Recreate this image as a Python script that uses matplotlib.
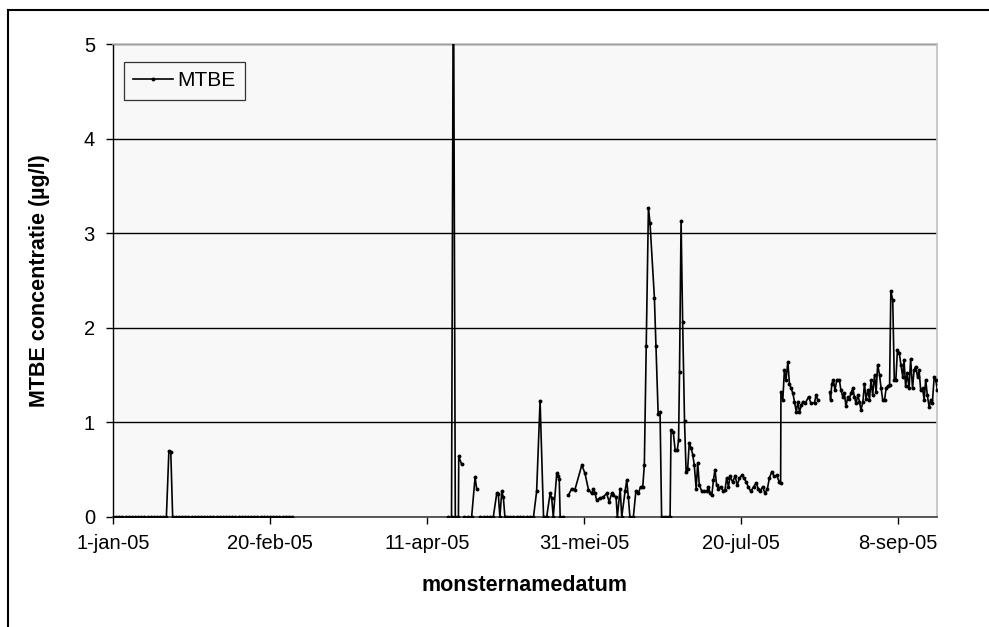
import numpy as np
import pandas as pd
import matplotlib
matplotlib.use("Agg")
import matplotlib.pyplot as plt
from matplotlib.lines import Line2D

plt.rcParams['font.family'] = ['Liberation Sans', 'DejaVu Sans']

# ---- data: days since 1-jan-2005 and MTBE concentration (ug/l); nan = gap ----
days = [0, 1, 2, 3, 4, 5, 6, 7, 8, 9, 10, 11, 12, 13, 14, 15, 16, 17, 17.8, 18.4,
        19, 20, 21, 22, 23, 24, 25, 26, 27, 28, 29, 30, 31, 32, 33, 34, 35, 36, 37,
        38, 39, 40, 41, 42, 43, 44, 45, 46, 47, 48, 49, 50, 51, 52, 53, 54, 55, 56, 57,
        80,
        106.8, 107.8, 108.4, 109.0, 110.0, 110.1, 111.0,
        111.4,
        111.9, 113.0, 114.2, 115.3, 115.8,
        116.3,
        116.9, 118.0, 119.0, 120.0, 121.1, 122.2, 122.7, 123.2, 123.8, 124.3, 124.8,
        125.4, 126.4, 127.5, 128.5, 129.6, 130.6, 131.7, 132.8, 133.9, 134.9, 136.0,
        137.1, 138.1, 139.2, 139.7, 140.2, 141.3, 141.8, 142.1, 142.4, 143.4,
        144.2,
        145.0, 146.1, 147.1, 149.3, 150.3, 151.4, 152.4, 153.0, 153.5, 154.0, 155.1,
        156.1, 157.2, 158.0, 158.8, 159.3, 160.2, 160.6, 161.5, 162.0, 163.1, 163.6,
        164.1, 164.6, 165.7, 166.5, 167.3, 168.0, 168.7, 169.2, 169.8, 170.5, 171.0,
        172.4, 172.9, 173.6, 174.2, 174.7, 175.8, 176.8, 177.4, 177.7, 178.4, 179.0,
        179.7, 180.1, 180.4, 180.9, 181.4, 182.0, 182.5, 183.0, 183.5, 184.1, 184.6,
        185.1, 185.7, 186.2, 186.7, 187.5, 188.3, 189.1, 189.6, 190.2, 190.7, 191.2,
        191.7, 192.2, 192.8, 193.5, 194.4, 194.9, 195.4, 196.0, 196.5, 197.3, 198.1,
        198.8, 199.5, 200.2, 201.0, 201.6, 202.3, 203.1, 204.0, 204.8, 205.5, 206.0,
        206.9, 207.6, 208.4, 209.0, 209.8, 210.5, 211.3, 212.2, 212.6, 212.7, 213.3,
        213.8, 214.3, 214.9, 215.4, 215.9, 216.5, 217.0, 217.6, 218.1, 218.6, 219.2,
        219.7, 220.4, 221.5, 222.3, 223.4, 223.9, 224.4,
        226.3,
        228.3, 228.5, 228.9, 229.4, 229.9, 230.5, 231.3, 231.8, 232.4, 232.9, 233.4,
        234.0, 234.5, 235.0, 235.6, 236.1, 236.6, 237.2, 237.7, 238.2, 238.8, 239.3,
        239.8, 240.4, 240.9, 241.4, 241.9, 242.5, 243.0, 243.5, 244.1, 244.6, 245.1,
        245.7, 246.2, 246.7, 247.3, 247.7, 248.3, 248.8, 249.3, 249.8, 250.4, 250.9,
        251.5, 251.9, 252.4, 252.9, 253.5, 254.0, 254.6, 255.1, 255.6, 256.2, 256.7,
        257.2, 257.8, 258.3, 258.8, 259.3, 259.9, 260.4, 260.9, 261.5, 262.0, 262.5,
        263.1]

mtbe = [0, 0, 0, 0, 0, 0, 0, 0, 0, 0, 0, 0, 0, 0, 0, 0, 0, 0, 0.70, 0.69,
        0, 0, 0, 0, 0, 0, 0, 0, 0, 0, 0, 0, 0, 0, 0, 0, 0, 0, 0,
        0, 0, 0, 0, 0, 0, 0, 0, 0, 0, 0, 0, 0, 0, 0, 0, 0, 0, 0, 0,
        np.nan,
        0, 0, 6.2, 0, 0, 0.64, 0.56,
        np.nan,
        0, 0, 0, 0.42, 0.30,
        np.nan,
        0, 0, 0, 0, 0, 0.25, 0.24, 0, 0.27, 0.21, 0,
        0, 0, 0, 0, 0, 0, 0, 0, 0, 0.27, 1.23,
        0, 0, 0.25, 0.20, 0, 0.46, 0.43, 0.40, 0, 0,
        np.nan,
        0.23, 0.30, 0.29, 0.55, 0.46, 0.29, 0.25, 0.30, 0.25, 0.18, 0.20,
        0.21, 0.25, 0.16, 0.25, 0.23, 0.21, 0, 0.30, 0, 0.28, 0.39,
        0.21, 0, 0, 0.27, 0.25, 0.32, 0.32, 0.55, 1.81, 3.27, 3.11,
        2.32, 1.81, 1.09, 1.11, 0, 0, 0, 0, 0.92, 0.90, 0.71,
        0.71, 0.81, 1.53, 3.13, 2.06, 1.01, 0.48, 0.51, 0.78, 0.73, 0.66,
        0.55, 0.30, 0.57, 0.34, 0.27, 0.27, 0.27, 0.32, 0.25, 0.23, 0.39,
        0.50, 0.34, 0.30, 0.32, 0.27, 0.29, 0.41, 0.32, 0.43, 0.37, 0.43,
        0.34, 0.41, 0.44, 0.41, 0.37, 0.32, 0.27, 0.32, 0.36, 0.30, 0.27,
        0.32, 0.25, 0.30, 0.41, 0.48, 0.43, 0.44, 0.37, 0.36, 1.32, 1.24,
        1.55, 1.45, 1.64, 1.41, 1.36, 1.31, 1.22, 1.11, 1.22, 1.11, 1.18,
        1.22, 1.20, 1.27, 1.20, 1.21, 1.29, 1.24,
        np.nan,
        1.32, 1.24, 1.41, 1.45, 1.34, 1.45, 1.45, 1.34, 1.27, 1.31, 1.17,
        1.27, 1.25, 1.31, 1.36, 1.27, 1.20, 1.29, 1.22, 1.13, 1.22, 1.41,
        1.25, 1.34, 1.24, 1.45, 1.29, 1.50, 1.32, 1.61, 1.50, 1.36, 1.24,
        1.24, 1.36, 1.38, 1.40, 2.39, 2.29, 1.45, 1.45, 1.77, 1.73, 1.61,
        1.48, 1.66, 1.38, 1.52, 1.36, 1.67, 1.36, 1.55, 1.59, 1.48, 1.55,
        1.34, 1.36, 1.24, 1.45, 1.29, 1.16, 1.24, 1.20, 1.48, 1.45, 1.34,
        1.41]

tick_dates = ['2005-01-01', '2005-02-20', '2005-04-11', '2005-05-31', '2005-07-20', '2005-09-08']
tick_labels = ['1-jan-05', '20-feb-05', '11-apr-05', '31-mei-05', '20-jul-05', '8-sep-05']
y_ticks = [0, 1, 2, 3, 4, 5]

start = pd.Timestamp('2005-01-01')
x = start + pd.to_timedelta(np.array(days), unit='D')
y = np.array(mtbe, dtype=float)

fig = plt.figure(figsize=(9.89, 6.27), dpi=100)
ax = fig.add_axes([113/989, 1-517/627, (936.7-113)/989, (517-44)/627])
ax.set_facecolor('#f8f8f8')

ax.plot(x, y, color='black', lw=1.2, marker='o', ms=1.8, label='MTBE', zorder=3)

ax.set_ylim(0, 5)
ax.set_yticks(y_ticks)
ax.set_xlim(start, start + pd.Timedelta(days=262.3))
ax.set_xticks(pd.to_datetime(tick_dates))
ax.set_xticklabels(tick_labels)

ax.grid(axis='y', color='black', lw=1.0)
ax.set_axisbelow(True)
for s in ['top', 'right']:
    ax.spines[s].set_color('#c0c0c0')
    ax.spines[s].set_linewidth(1.2)
ax.spines['left'].set_color('black')
ax.spines['left'].set_linewidth(1.0)
ax.spines['bottom'].set_color('#404040')
ax.spines['bottom'].set_linewidth(1.2)

ax.tick_params(axis='both', labelsize=14.5, direction='out', length=5, width=1, color='black')
ax.tick_params(axis='y', pad=8)
ax.tick_params(axis='x', pad=7)

ax.set_xlabel('monsternamedatum', fontsize=15.5, fontweight='bold')
ax.set_ylabel('MTBE concentratie (µg/l)', fontsize=15.5, fontweight='bold')
ax.xaxis.set_label_coords(0.5, -0.122)
ax.yaxis.set_label_coords(-0.076, 0.5)

leg = ax.legend(loc='upper left', bbox_to_anchor=(0.0134, 0.962), borderaxespad=0,
                fontsize=15, frameon=True, fancybox=False, handlelength=1.9,
                handletextpad=0.2, borderpad=0.45, markerscale=1.0)
leg.get_frame().set_edgecolor('black')
leg.get_frame().set_linewidth(0.9)
leg.get_frame().set_facecolor('#f8f8f8')

# outer chart frame (cut off on right and bottom as in the reference)
fig.add_artist(Line2D([8/989, 8/989], [0, 1-10/627], color='black', lw=1.5, transform=fig.transFigure))
fig.add_artist(Line2D([8/989, 1], [1-10/627, 1-10/627], color='black', lw=1.5, transform=fig.transFigure))

fig.savefig('out.png', dpi=100)
